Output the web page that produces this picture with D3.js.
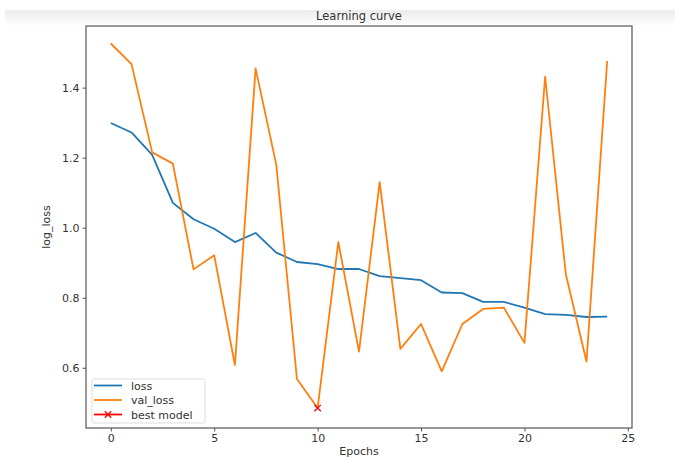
<!DOCTYPE html>
<html>
<head>
<meta charset="utf-8">
<script src="https://cdn.jsdelivr.net/npm/d3@7"></script>
<style>
  body { margin: 0; background: #fff; }
  svg { font-family: "DejaVu Sans", sans-serif; }
</style>
</head>
<body>
<div id="chart"></div>
<script>
// Learning curve data
const epochs = d3.range(0, 25)
const loss = [1.299, 1.272, 1.208, 1.071, 1.024, 0.997, 0.959, 0.985, 0.929, 0.902,
              0.896, 0.882, 0.882, 0.862, 0.856, 0.850, 0.815, 0.813, 0.788, 0.788,
              0.772, 0.753, 0.751, 0.745, 0.746]
const valLoss = [1.526, 1.467, 1.215, 1.183, 0.881, 0.921, 0.608, 1.455, 1.180, 0.568,
                 0.485, 0.959, 0.646, 1.130, 0.654, 0.725, 0.590, 0.725, 0.768, 0.772,
                 0.671, 1.431, 0.867, 0.618, 1.476]
const bestEpoch = [10]
const bestLoss = [0.485]
const xTicks = [0, 5, 10, 15, 20, 25]
const yTicks = [0.6, 0.8, 1.0, 1.2, 1.4]

const w = 675
const h = 457
const plotL = 86, plotR = 632, plotT = 26, plotB = 428

const xScale = d3.scaleLinear().domain([-1.2, 25.2]).range([plotL, plotR])
const yScale = d3.scaleLinear().domain([0.428, 1.576]).range([plotB, plotT])

const svg = d3.select("#chart")
              .append("svg")
              .attr("width", w)
              .attr("height", h)

// faint grey band at the top (screenshot edge)
const grad = svg.append("defs").append("linearGradient")
  .attr("id", "band").attr("x1", 0).attr("y1", 0).attr("x2", 0).attr("y2", 1)
grad.append("stop").attr("offset", "0%").attr("stop-color", "#ececec")
grad.append("stop").attr("offset", "100%").attr("stop-color", "#ffffff")
svg.append("rect")
  .attr("x", 5).attr("y", 10).attr("width", w - 5).attr("height", 16)
  .attr("fill", "url(#band)")

// title
svg.append("text")
  .attr("x", (plotL + plotR) / 2)
  .attr("y", 20)
  .attr("text-anchor", "middle")
  .style("font-size", "11.5px")
  .attr("fill", "#333")
  .text("Learning curve")

// plot area
svg.append("rect")
  .attr("x", plotL).attr("y", plotT)
  .attr("width", plotR - plotL).attr("height", plotB - plotT)
  .attr("fill", "#fff")

// axes
const xAxis = d3.axisBottom(xScale).tickValues(xTicks).tickSize(3.5).tickPadding(3)
const yAxis = d3.axisLeft(yScale).tickValues(yTicks).tickSize(3.5).tickPadding(3)
  .tickFormat(d3.format(".1f"))

const gx = svg.append("g")
  .attr("transform", `translate(0, ${plotB})`)
  .call(xAxis)
const gy = svg.append("g")
  .attr("transform", `translate(${plotL}, 0)`)
  .call(yAxis)
;[gx, gy].forEach(g => {
  g.select(".domain").remove()
  g.selectAll(".tick line").attr("stroke", "#555")
  g.selectAll(".tick text").attr("fill", "#333").style("font-size", "11px")
    .style("font-family", "DejaVu Sans, sans-serif")
})

// axis titles
svg.append("text")
  .attr("x", (plotL + plotR) / 2)
  .attr("y", 455)
  .attr("text-anchor", "middle")
  .style("font-size", "11px")
  .attr("fill", "#333")
  .text("Epochs")

svg.append("text")
  .attr("transform", "rotate(-90)")
  .attr("x", -(plotT + plotB) / 2)
  .attr("y", 50)
  .attr("text-anchor", "middle")
  .style("font-size", "11px")
  .attr("fill", "#333")
  .text("log_loss")

// lines
const line = d3.line().x((d, i) => xScale(epochs[i])).y(d => yScale(d))

svg.append("path")
  .datum(loss)
  .attr("fill", "none")
  .attr("stroke", "#1f77b4")
  .attr("stroke-width", 1.8)
  .attr("stroke-linejoin", "round")
  .attr("d", line)

svg.append("path")
  .datum(valLoss)
  .attr("fill", "none")
  .attr("stroke", "#ff7f0e")
  .attr("stroke-width", 1.8)
  .attr("stroke-linejoin", "round")
  .attr("d", line)

// best model marker
function cross(g, cx, cy, r) {
  g.append("path")
    .attr("d", `M${cx - r},${cy - r}L${cx + r},${cy + r}M${cx - r},${cy + r}L${cx + r},${cy - r}`)
    .attr("stroke", "red")
    .attr("stroke-width", 1.3)
}
bestEpoch.forEach((e, i) => cross(svg, xScale(e), yScale(bestLoss[i]), 3.2))

// frame
svg.append("rect")
  .attr("x", plotL).attr("y", plotT)
  .attr("width", plotR - plotL).attr("height", plotB - plotT)
  .attr("fill", "none")
  .attr("stroke", "#555")
  .attr("stroke-width", 1.2)

// legend
const legend = svg.append("g")
legend.append("rect")
  .attr("x", 92).attr("y", 379)
  .attr("width", 113).attr("height", 44)
  .attr("rx", 2)
  .attr("fill", "#fff")
  .attr("fill-opacity", 0.8)
  .attr("stroke", "#ddd")

const entries = [
  { name: "loss", color: "#1f77b4", marker: false },
  { name: "val_loss", color: "#ff7f0e", marker: false },
  { name: "best model", color: "red", marker: true }
]
entries.forEach((d, i) => {
  const y = 385.5 + i * 14.5
  legend.append("line")
    .attr("x1", 94).attr("x2", 122)
    .attr("y1", y).attr("y2", y)
    .attr("stroke", d.color)
    .attr("stroke-width", 1.8)
  if (d.marker) cross(legend, 108, y, 3.2)
  legend.append("text")
    .attr("x", 131)
    .attr("y", y + 4)
    .style("font-size", "11px")
    .attr("fill", "#333")
    .text(d.name)
})
</script>
</body>
</html>
